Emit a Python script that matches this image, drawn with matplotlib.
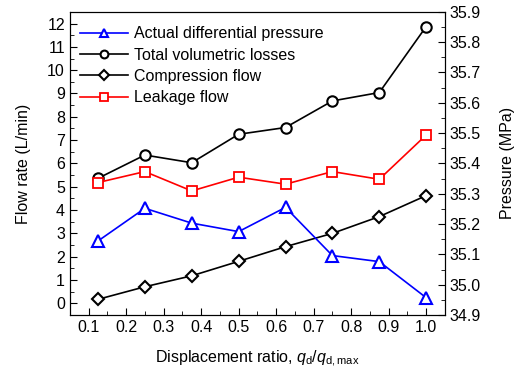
import matplotlib
matplotlib.use("Agg")
import matplotlib.pyplot as plt
from matplotlib.ticker import MultipleLocator

plt.rcParams["font.family"] = ["Liberation Sans", "DejaVu Sans"]
plt.rcParams["font.size"] = 11.5
plt.rcParams["mathtext.fontset"] = "custom"
plt.rcParams["mathtext.it"] = "Liberation Sans:italic"
plt.rcParams["mathtext.rm"] = "Liberation Sans"

ratio = [0.125, 0.25, 0.375, 0.5, 0.625, 0.75, 0.875, 1.0]
total_losses = [5.36, 6.36, 6.03, 7.25, 7.54, 8.68, 9.04, 11.87]
compression = [0.17, 0.71, 1.18, 1.80, 2.43, 3.00, 3.72, 4.62]
leakage = [5.18, 5.65, 4.82, 5.41, 5.11, 5.65, 5.32, 7.22]
pressure = [35.144, 35.252, 35.203, 35.175, 35.255, 35.096, 35.076, 34.957]

fig = plt.figure(figsize=(5.21, 3.71), dpi=100)
ax = fig.add_axes([0.134, 0.151, 0.72, 0.817])
ax2 = ax.twinx()

lw = 1.2
l1, = ax2.plot(ratio, pressure, color="blue", marker="^", label="Actual differential pressure",
               markersize=8, markeredgewidth=1.5, markerfacecolor="white", linewidth=lw)
l2, = ax.plot(ratio, total_losses, color="black", marker="o", label="Total volumetric losses",
              markersize=7.5, markeredgewidth=1.5, markerfacecolor="white", linewidth=lw)
l3, = ax.plot(ratio, compression, color="black", marker="D", label="Compression flow",
              markersize=6.5, markeredgewidth=1.5, markerfacecolor="white", linewidth=lw)
l4, = ax.plot(ratio, leakage, color="red", marker="s", label="Leakage flow",
              markersize=7, markeredgewidth=1.3, markerfacecolor="white", linewidth=lw)

ax.set_xlim(0.05, 1.05)
ax.set_ylim(-0.5, 12.5)
ax2.set_ylim(34.9, 35.9)
ax.set_xticks([0.1, 0.2, 0.3, 0.4, 0.5, 0.6, 0.7, 0.8, 0.9, 1.0])
ax.xaxis.set_minor_locator(MultipleLocator(0.05))
ax.set_yticks(range(0, 13))
ax.yaxis.set_minor_locator(MultipleLocator(0.5))
ax2.set_yticks([34.9, 35.0, 35.1, 35.2, 35.3, 35.4, 35.5, 35.6, 35.7, 35.8, 35.9])
ax2.set_yticklabels(["34.9", "35.0", "35.1", "35.2", "35.3", "35.4", "35.5", "35.6", "35.7", "35.8", "35.9"])
ax2.yaxis.set_minor_locator(MultipleLocator(0.05))

ax.tick_params(which="both", direction="in", top=False, right=False)
ax.tick_params(which="major", length=5)
ax.tick_params(which="minor", length=3)
ax2.tick_params(which="both", direction="in")
ax2.tick_params(which="major", length=5)
ax2.tick_params(which="minor", length=3)

ax.set_xlabel(r"Displacement ratio, $q_\mathrm{d}/q_\mathrm{d,max}$", labelpad=10)
ax.set_ylabel("Flow rate (L/min)", labelpad=12)
ax2.set_ylabel("Pressure (MPa)", labelpad=14)

ax.legend(handles=[l1, l2, l3, l4], loc="upper left", frameon=False,
          handlelength=3.0, borderaxespad=0.5, labelspacing=0.4, markerscale=0.75,
          bbox_to_anchor=(-0.012, 1.0), handletextpad=0.4)

fig.savefig("out.png", dpi=100)
